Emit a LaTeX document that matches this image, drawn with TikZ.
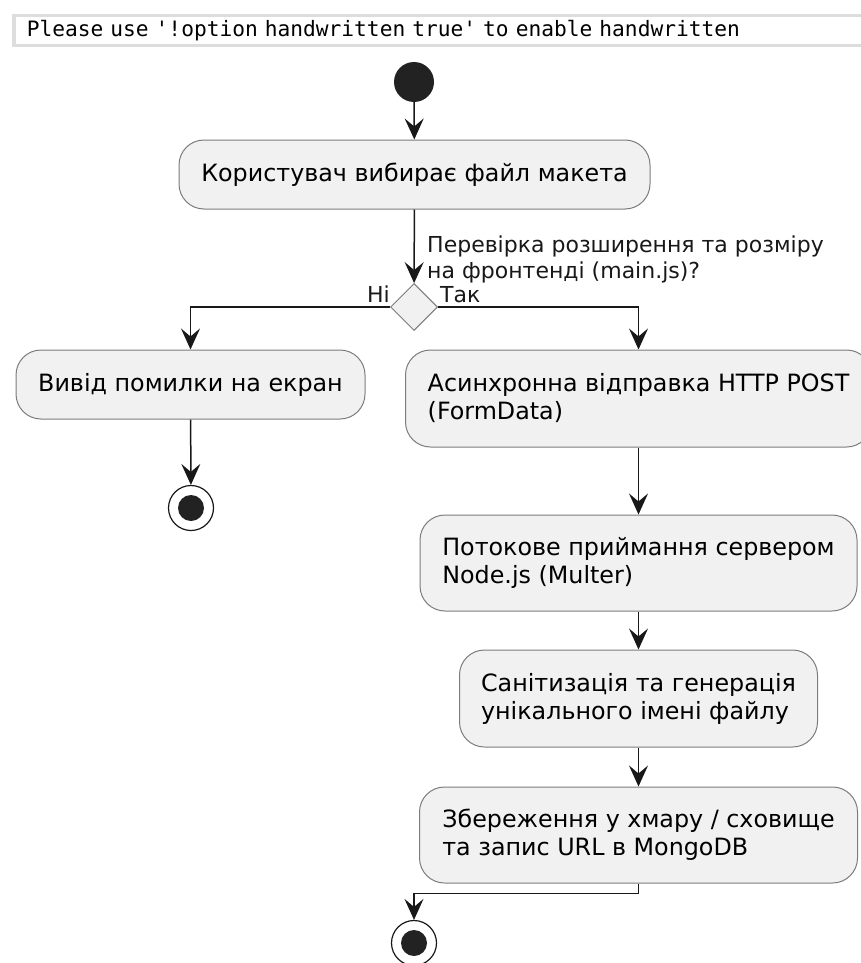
\documentclass[tikz,border=0pt]{standalone}
\usepackage{fontspec}
\setmainfont{DejaVu Sans}
\setmonofont{DejaVu Sans Mono}
\usepackage{tikz}
\usetikzlibrary{arrows.meta, shapes.geometric}
\usepackage{xcolor}
\definecolor{boxfill}{HTML}{F1F1F1}
\definecolor{ink}{HTML}{181818}
\definecolor{edgegray}{HTML}{7C7C7C}
\definecolor{bannerline}{HTML}{DDDDDD}
\definecolor{dotfill}{HTML}{222222}

\begin{document}
\begin{tikzpicture}[x=1pt, y=-1pt,
    action/.style={draw=edgegray, fill=boxfill, line width=1pt, rounded corners=25pt,
      align=left, font=\fontsize{23.8}{28}\selectfont},
    guard/.style={font=\fontsize{22}{26}\selectfont, text=ink, inner sep=0pt},
    flow/.style={-{Stealth[length=21pt, width=19pt, inset=8pt]}, draw=ink, line width=1.5pt},
    startdot/.style={circle, fill=dotfill, minimum size=40pt, inner sep=0pt},
    enddot/.style={circle, draw=ink, fill=white, line width=1.2pt, minimum size=45pt, inner sep=0pt,
      path picture={\fill[dotfill] (path picture bounding box.center) circle (13pt);}},
    banner/.style={draw=bannerline, fill=white, line width=3.5pt, anchor=west, align=left,
      text width=837pt, inner xsep=13pt, minimum height=30pt, font=\ttfamily\fontsize{21.2}{24}\selectfont}]
  \useasboundingbox (0,0) rectangle (861,963);

  \node[banner] (warn) at (12,30.5) {Please use '!option handwritten true' to enable handwritten};

  \node[startdot] (start) at (414,82) {};
  \node[action, minimum width=471pt, minimum height=69pt] (choose) at (414.5,174.5) {Користувач вибирає файл макета};
  \node[diamond, draw=edgegray, fill=boxfill, line width=1pt, minimum size=47pt, inner sep=0pt] (check) at (414,307) {};
  \node[guard, anchor=base west, align=left] (cond) at (427,278) {Перевірка розширення та розміру\\на фронтенді (main.js)?};
  \node[guard, anchor=base east] (no) at (390,302) {Ні};
  \node[guard, anchor=base west] (yes) at (440,302) {Так};

  % left branch
  \node[action, minimum width=349pt, minimum height=69pt] (showerr) at (190.5,384.5) {Вивід помилки на екран};
  \node[enddot] (endL) at (191,508) {};

  % right branch
  \node[action, minimum width=466pt, minimum height=97pt] (send) at (638.5,398.5) {Асинхронна відправка HTTP POST\\(FormData)};
  \node[action, minimum width=437pt, minimum height=96pt] (receive) at (638.5,563) {Потокове приймання сервером\\Node.js (Multer)};
  \node[action, minimum width=358pt, minimum height=97pt] (sanitize) at (638.5,698.5) {Санітизація та генерація\\унікального імені файлу};
  \node[action, minimum width=438pt, minimum height=96pt] (store) at (638.5,835) {Збереження у хмару / сховище\\та запис URL в MongoDB};
  \node[enddot] (endR) at (414,943) {};

  \draw[flow] (start) -- (choose);
  \draw[flow] (choose) -- (check);
  \draw[flow] (check.west) -| (showerr.north);
  \draw[flow] (check.east) -| (send.north);
  \draw[flow] (showerr) -- (endL);
  \draw[flow] (send) -- (receive);
  \draw[flow] (receive) -- (sanitize);
  \draw[flow] (sanitize) -- (store);
  \draw[flow] (store.south) -- ++(0,10) -| (endR.north);
\end{tikzpicture}
\end{document}
